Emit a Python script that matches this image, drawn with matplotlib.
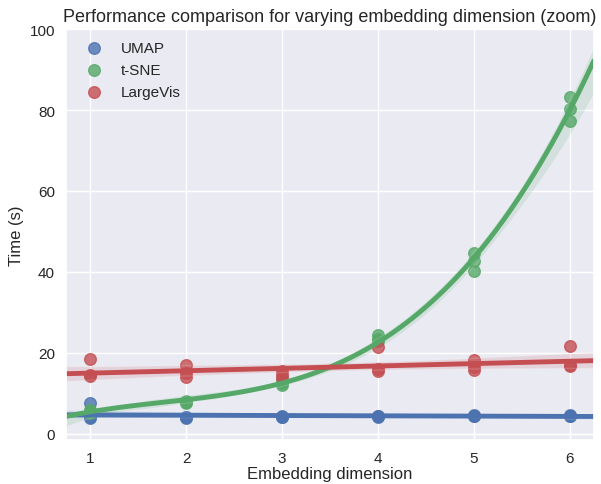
import numpy as np
import pandas as pd
import matplotlib
matplotlib.use("Agg")
import matplotlib.pyplot as plt
import seaborn as sns

# timings, three runs per dimension
dims = [1, 1, 1, 2, 2, 2, 3, 3, 3, 4, 4, 4, 5, 5, 5, 6, 6, 6]
umap_time = [7.6, 4.0, 4.2, 4.0, 4.2, 4.1, 4.2, 4.3, 4.1,
             4.3, 4.2, 4.4, 4.5, 4.4, 4.6, 4.5, 4.6, 4.4]
tsne_time = [5.7, 5.2, 6.0, 7.9, 7.6, 8.2, 12.0, 12.6, 13.0,
             24.4, 22.9, 23.5, 44.6, 42.6, 40.1, 83.2, 80.3, 77.4]
largevis_time = [18.6, 14.3, 14.6, 17.0, 15.0, 14.1, 15.5, 13.8, 14.5,
                 21.4, 15.6, 16.0, 18.3, 16.5, 15.8, 21.7, 16.7, 16.9]

sns.set_theme(style="darkgrid")
plt.rcParams['font.family'] = ['Liberation Sans', 'DejaVu Sans']

fig = plt.figure(figsize=(6.01, 4.85), dpi=100)
ax = fig.add_axes([0.11, 0.091, 0.878, 0.847])
ax.set_xlim(0.75, 6.25)

pal = sns.color_palette("deep")
sk = dict(s=70)
lk = dict(lw=3.5)
sns.regplot(x=dims, y=umap_time, order=1, color=pal[0], label="UMAP", ax=ax,
            seed=0, truncate=False, scatter_kws=sk, line_kws=lk)
sns.regplot(x=dims, y=tsne_time, order=3, color=pal[2], label="t-SNE", ax=ax,
            seed=0, truncate=False, scatter_kws=sk, line_kws=lk)
sns.regplot(x=dims, y=largevis_time, order=1, color=pal[3], label="LargeVis", ax=ax,
            seed=0, truncate=False, scatter_kws=sk, line_kws=lk)

ax.set_xlim(0.75, 6.25)
ax.set_ylim(-1.5, 100)
ax.set_xlabel("Embedding dimension", fontsize=12, labelpad=1)
ax.set_ylabel("Time (s)", fontsize=12)
ax.set_title("Performance comparison for varying embedding dimension (zoom)", fontsize=13)
ax.tick_params(labelsize=11, pad=2)
ax.legend(loc="upper left", frameon=False, fontsize=11, borderaxespad=0.4, labelspacing=0.5)

fig.savefig("out.png", dpi=100)
